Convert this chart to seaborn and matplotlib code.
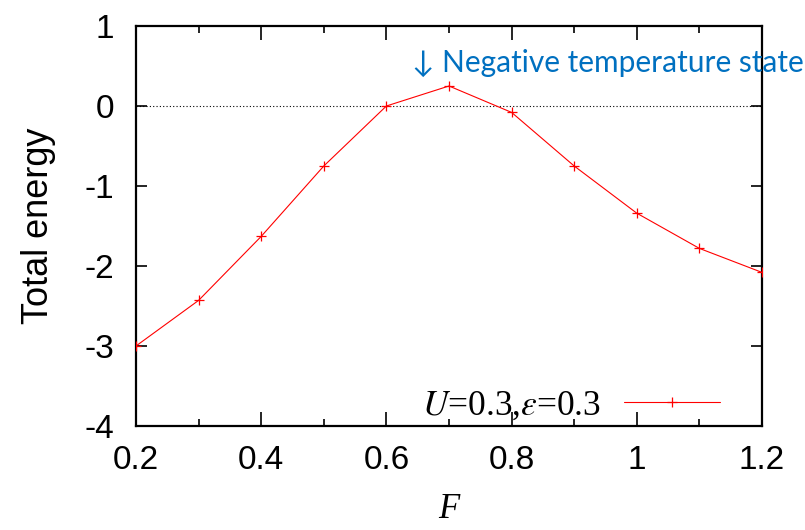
import matplotlib
matplotlib.use("Agg")
import matplotlib.pyplot as plt
from matplotlib.ticker import MultipleLocator
import seaborn as sns
import pandas as pd

# Total energy versus F for U=0.3, eps=0.3
F_values = [0.2, 0.3, 0.4, 0.5, 0.6, 0.7, 0.8, 0.9, 1.0, 1.1, 1.2]
total_energy = [-3.0, -2.43, -1.63, -0.75, 0.0, 0.25, -0.08, -0.75, -1.34, -1.78, -2.08]
series_label = r"$U$=0.3,$\varepsilon$=0.3"
note_text = "\u2193 Negative temperature state"

df = pd.DataFrame({"F": F_values, "E": total_energy})

sns.set_theme(style="ticks")
plt.rcParams["font.family"] = ["Liberation Sans", "DejaVu Sans"]
plt.rcParams["mathtext.fontset"] = "stix"
plt.rcParams["text.color"] = "black"
plt.rcParams["axes.labelcolor"] = "black"

fig = plt.figure(figsize=(8.05, 5.30), dpi=100)
ax = fig.add_axes([136 / 805, 1 - 426 / 530, (762 - 136) / 805, (426 - 26) / 530])

ax.axhline(0, color="black", lw=0.8, ls=(0, (1, 2)), zorder=1)

sns.lineplot(data=df, x="F", y="E", ax=ax, color="red", lw=0.8,
             marker="+", markersize=7.5, markeredgecolor="red",
             markeredgewidth=0.9, label=series_label, zorder=3)

ax.set_xlim(0.2, 1.2)
ax.set_ylim(-4, 1)
ax.xaxis.set_major_locator(MultipleLocator(0.2))
ax.xaxis.set_minor_locator(MultipleLocator(0.1))
ax.yaxis.set_major_locator(MultipleLocator(1))
ax.xaxis.set_major_formatter(plt.FuncFormatter(lambda v, p: f"{v:g}"))
ax.yaxis.set_major_formatter(plt.FuncFormatter(lambda v, p: f"{v:g}"))

for s in ax.spines.values():
    s.set_linewidth(1.6)
    s.set_color("black")

ax.tick_params(axis="both", which="both", direction="in", top=True, right=True,
               color="black", width=1.2, labelcolor="black")
ax.tick_params(axis="x", which="major", length=10, pad=14, labelsize=24)
ax.tick_params(axis="x", which="minor", length=5)
ax.tick_params(axis="y", which="major", length=8, pad=16, labelsize=24)

ax.set_ylabel("Total energy", fontsize=26, labelpad=20, color="black")
ax.set_xlabel("F", fontsize=25, family="Liberation Serif", style="italic",
              labelpad=12, color="black")

leg = ax.legend(loc="center right", bbox_to_anchor=(0.933, 0.05), frameon=False,
                markerfirst=False, handlelength=2.7, handletextpad=0.65,
                borderpad=0, borderaxespad=0,
                prop={"family": "Liberation Serif", "size": 25.5})
for t in leg.get_texts():
    t.set_color("black")

fig.text(412 / 805, 1 - 72 / 530, note_text, color="#0070C0", fontsize=21.5,
         family=["Lato", "DejaVu Sans"], ha="left", va="baseline")

fig.savefig("out.png", dpi=100)
